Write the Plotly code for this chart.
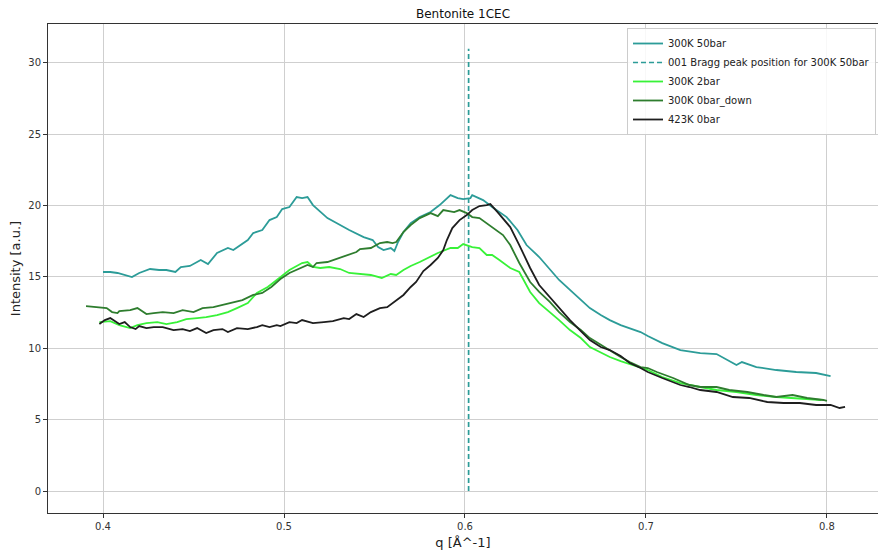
import plotly.graph_objects as go

# ---- data ----
q_50bar = [0.400, 0.404, 0.408, 0.412, 0.416, 0.420, 0.426, 0.431, 0.435, 0.440, 0.443, 0.448,
           0.454, 0.458, 0.463, 0.469, 0.472, 0.480, 0.483, 0.488, 0.492, 0.496, 0.499, 0.503,
           0.507, 0.510, 0.513, 0.516, 0.520, 0.524, 0.529, 0.536, 0.544, 0.549, 0.552, 0.555,
           0.559, 0.561, 0.563, 0.566, 0.570, 0.575, 0.581, 0.586, 0.592, 0.596, 0.599, 0.603,
           0.604, 0.610, 0.615, 0.623, 0.629, 0.634, 0.641, 0.647, 0.652, 0.658, 0.664, 0.669,
           0.675, 0.680, 0.686, 0.691, 0.697, 0.701, 0.709, 0.719, 0.730, 0.739, 0.745, 0.750,
           0.753, 0.761, 0.772, 0.783, 0.794, 0.800, 0.802]
I_50bar = [15.35, 15.35, 15.28, 15.14, 14.99, 15.28, 15.56, 15.49, 15.49, 15.35, 15.70, 15.77,
           16.19, 15.91, 16.68, 17.03, 16.89, 17.59, 18.08, 18.29, 18.99, 19.20, 19.76, 19.90,
           20.60, 20.53, 20.60, 20.04, 19.55, 19.13, 18.78, 18.29, 17.80, 17.59, 17.10, 16.89,
           17.03, 16.82, 17.45, 18.15, 18.78, 19.20, 19.55, 20.04, 20.74, 20.53, 20.46, 20.53,
           20.74, 20.39, 19.90, 19.20, 18.29, 17.24, 16.40, 15.49, 14.79, 14.10, 13.38, 12.82,
           12.33, 11.98, 11.63, 11.42, 11.14, 10.86, 10.37, 9.88, 9.67, 9.60, 9.18, 8.83,
           9.04, 8.69, 8.48, 8.34, 8.27, 8.13, 8.06]

q_2bar = [0.398, 0.404, 0.409, 0.415, 0.419, 0.424, 0.430, 0.435, 0.441, 0.446, 0.452, 0.457,
          0.463, 0.469, 0.474, 0.480, 0.485, 0.491, 0.496, 0.503, 0.510, 0.513, 0.516, 0.520,
          0.525, 0.531, 0.536, 0.542, 0.548, 0.554, 0.559, 0.562, 0.566, 0.570, 0.575, 0.585,
          0.592, 0.596, 0.599, 0.604, 0.608, 0.612, 0.615, 0.619, 0.625, 0.630, 0.636, 0.641,
          0.647, 0.652, 0.658, 0.664, 0.669, 0.675, 0.680, 0.686, 0.691, 0.697, 0.701, 0.709,
          0.719, 0.730, 0.739, 0.750, 0.761, 0.772, 0.783, 0.797]
I_2bar = [11.84, 11.91, 11.63, 11.42, 11.63, 11.77, 11.84, 11.70, 11.84, 12.05, 12.12, 12.19,
          12.33, 12.54, 12.82, 13.17, 13.88, 14.30, 14.79, 15.49, 15.98, 16.05, 15.70, 15.63,
          15.70, 15.56, 15.28, 15.21, 15.14, 14.93, 15.21, 15.14, 15.49, 15.77, 16.05, 16.68,
          17.03, 17.03, 17.31, 17.10, 17.03, 16.54, 16.54, 16.19, 15.63, 15.35, 13.95, 13.17,
          12.54, 11.98, 11.28, 10.72, 10.09, 9.74, 9.39, 9.11, 8.90, 8.69, 8.48, 7.99,
          7.57, 7.29, 7.08, 6.94, 6.73, 6.59, 6.52, 6.38]

q_0bar_down = [0.3906, 0.397, 0.402, 0.405, 0.408, 0.409, 0.415, 0.419, 0.424, 0.428, 0.433, 0.439,
               0.444, 0.450, 0.455, 0.461, 0.466, 0.472, 0.477, 0.483, 0.488, 0.493, 0.498, 0.503,
               0.509, 0.513, 0.516, 0.518, 0.524, 0.529, 0.535, 0.540, 0.542, 0.548, 0.553, 0.557,
               0.560, 0.562, 0.566, 0.570, 0.575, 0.581, 0.585, 0.588, 0.594, 0.597, 0.601, 0.604,
               0.608, 0.612, 0.615, 0.621, 0.625, 0.630, 0.636, 0.641, 0.647, 0.652, 0.658, 0.664,
               0.669, 0.675, 0.680, 0.686, 0.691, 0.697, 0.701, 0.706, 0.715, 0.724, 0.730, 0.739,
               0.746, 0.756, 0.765, 0.772, 0.781, 0.789, 0.798, 0.800]
I_0bar_down = [12.96, 12.89, 12.82, 12.54, 12.47, 12.61, 12.68, 12.82, 12.40, 12.47, 12.54, 12.47,
               12.68, 12.54, 12.82, 12.89, 13.03, 13.24, 13.38, 13.74, 13.88, 14.30, 14.86, 15.28,
               15.63, 15.84, 15.70, 15.98, 16.05, 16.26, 16.54, 16.75, 16.96, 17.03, 17.38, 17.45,
               17.38, 17.45, 18.15, 18.64, 19.13, 19.48, 19.27, 19.69, 19.55, 19.69, 19.48, 19.20,
               19.13, 18.78, 18.50, 17.94, 17.24, 15.98, 14.65, 13.95, 13.24, 12.54, 11.84, 11.28,
               10.72, 10.23, 9.88, 9.39, 9.04, 8.69, 8.62, 8.34, 7.92, 7.43, 7.29, 7.29,
               7.08, 6.94, 6.73, 6.59, 6.73, 6.52, 6.38, 6.31]

q_423K = [0.398, 0.401, 0.404, 0.407, 0.409, 0.412, 0.415, 0.418, 0.420, 0.424, 0.428, 0.433,
          0.439, 0.444, 0.448, 0.452, 0.457, 0.461, 0.466, 0.469, 0.474, 0.480, 0.485, 0.488,
          0.492, 0.496, 0.498, 0.503, 0.507, 0.510, 0.516, 0.522, 0.527, 0.533, 0.536, 0.540,
          0.544, 0.548, 0.553, 0.557, 0.562, 0.566, 0.570, 0.573, 0.577, 0.581, 0.585, 0.588,
          0.590, 0.593, 0.597, 0.601, 0.604, 0.608, 0.612, 0.614, 0.618, 0.621, 0.625, 0.630,
          0.636, 0.641, 0.647, 0.652, 0.658, 0.664, 0.669, 0.675, 0.680, 0.686, 0.691, 0.697,
          0.701, 0.709, 0.719, 0.724, 0.730, 0.739, 0.748, 0.757, 0.767, 0.776, 0.785, 0.794,
          0.802, 0.807, 0.810]
I_423K = [11.70, 11.98, 12.12, 11.84, 11.70, 11.84, 11.49, 11.35, 11.56, 11.42, 11.49, 11.49,
          11.28, 11.35, 11.21, 11.42, 11.07, 11.28, 11.35, 11.14, 11.42, 11.35, 11.49, 11.63,
          11.49, 11.63, 11.56, 11.84, 11.77, 11.98, 11.77, 11.84, 11.91, 12.12, 12.05, 12.40,
          12.19, 12.54, 12.82, 12.89, 13.38, 13.74, 14.30, 14.65, 15.42, 15.84, 16.33, 16.89,
          17.59, 18.43, 18.99, 19.34, 19.69, 19.97, 20.04, 20.11, 19.55, 19.13, 18.50, 17.24,
          15.63, 14.44, 13.59, 12.82, 11.98, 11.21, 10.58, 10.09, 9.88, 9.46, 8.97, 8.62,
          8.34, 7.92, 7.43, 7.29, 7.08, 6.94, 6.59, 6.52, 6.24, 6.17, 6.17, 6.03,
          6.03, 5.82, 5.89]

bragg_q = 0.602
bragg_I = [0, 31]

x_ticks = [0.4, 0.5, 0.6, 0.7, 0.8]
y_ticks = [0, 5, 10, 15, 20, 25, 30]

C_TEAL = "#2c9c98"
C_LIME = "#38f238"
C_DG = "#2e7d2e"
C_BLK = "#1e1e1e"

fig = go.Figure()
fig.add_trace(go.Scatter(x=q_50bar, y=I_50bar, mode="lines", name="300K 50bar",
                         line=dict(color=C_TEAL, width=1.8)))
fig.add_trace(go.Scatter(x=[bragg_q, bragg_q], y=bragg_I, mode="lines",
                         name="001 Bragg peak position for 300K 50bar",
                         line=dict(color=C_TEAL, width=1.7, dash="5px,3px")))
fig.add_trace(go.Scatter(x=q_2bar, y=I_2bar, mode="lines", name="300K 2bar",
                         line=dict(color=C_LIME, width=1.8)))
fig.add_trace(go.Scatter(x=q_0bar_down, y=I_0bar_down, mode="lines", name="300K 0bar_down",
                         line=dict(color=C_DG, width=1.8)))
fig.add_trace(go.Scatter(x=q_423K, y=I_423K, mode="lines", name="423K 0bar",
                         line=dict(color=C_BLK, width=1.8)))

FONT = "DejaVu Sans"
fig.update_layout(
    width=879, height=552,
    margin=dict(l=48, r=1, t=24, b=39, autoexpand=False),
    paper_bgcolor="white", plot_bgcolor="white",
    font=dict(family=FONT, size=10, color="#333333"),
    title=dict(text="Bentonite 1CEC", x=(48 + 878) / 2 / 879, xanchor="center",
               y=1 - 14 / 552, yanchor="middle", yref="container",
               font=dict(family=FONT, size=12, color="#111111")),
    showlegend=True,
    legend=dict(x=1 - 2 / 830, y=1 - 4 / 489, xanchor="right", yanchor="top",
                bgcolor="rgba(255,255,255,0.85)", bordercolor="#cccccc", borderwidth=1,
                font=dict(family=FONT, size=10, color="#222222"),
                tracegroupgap=0, itemwidth=30),
)
fig.update_xaxes(range=[0.3696, 0.8282], tickvals=x_ticks, ticktext=[str(v) for v in x_ticks],
                 showgrid=True, gridcolor="#cfcfcf", gridwidth=1, zeroline=False,
                 showline=True, linecolor="#333333", linewidth=1, mirror=True,
                 ticks="outside", ticklen=4, tickcolor="#333333",
                 title=dict(text="q [Å^-1]", font=dict(family=FONT, size=13, color="#222222"), standoff=6))
fig.update_yaxes(range=[-1.54, 32.73], tickvals=y_ticks,
                 showgrid=True, gridcolor="#cfcfcf", gridwidth=1, zeroline=False,
                 showline=True, linecolor="#333333", linewidth=1,
                 ticks="outside", ticklen=4, tickcolor="#333333",
                 title=dict(text="Intensity [a.u.]", font=dict(family=FONT, size=13, color="#222222"), standoff=4))

fig.write_html("out.html")
